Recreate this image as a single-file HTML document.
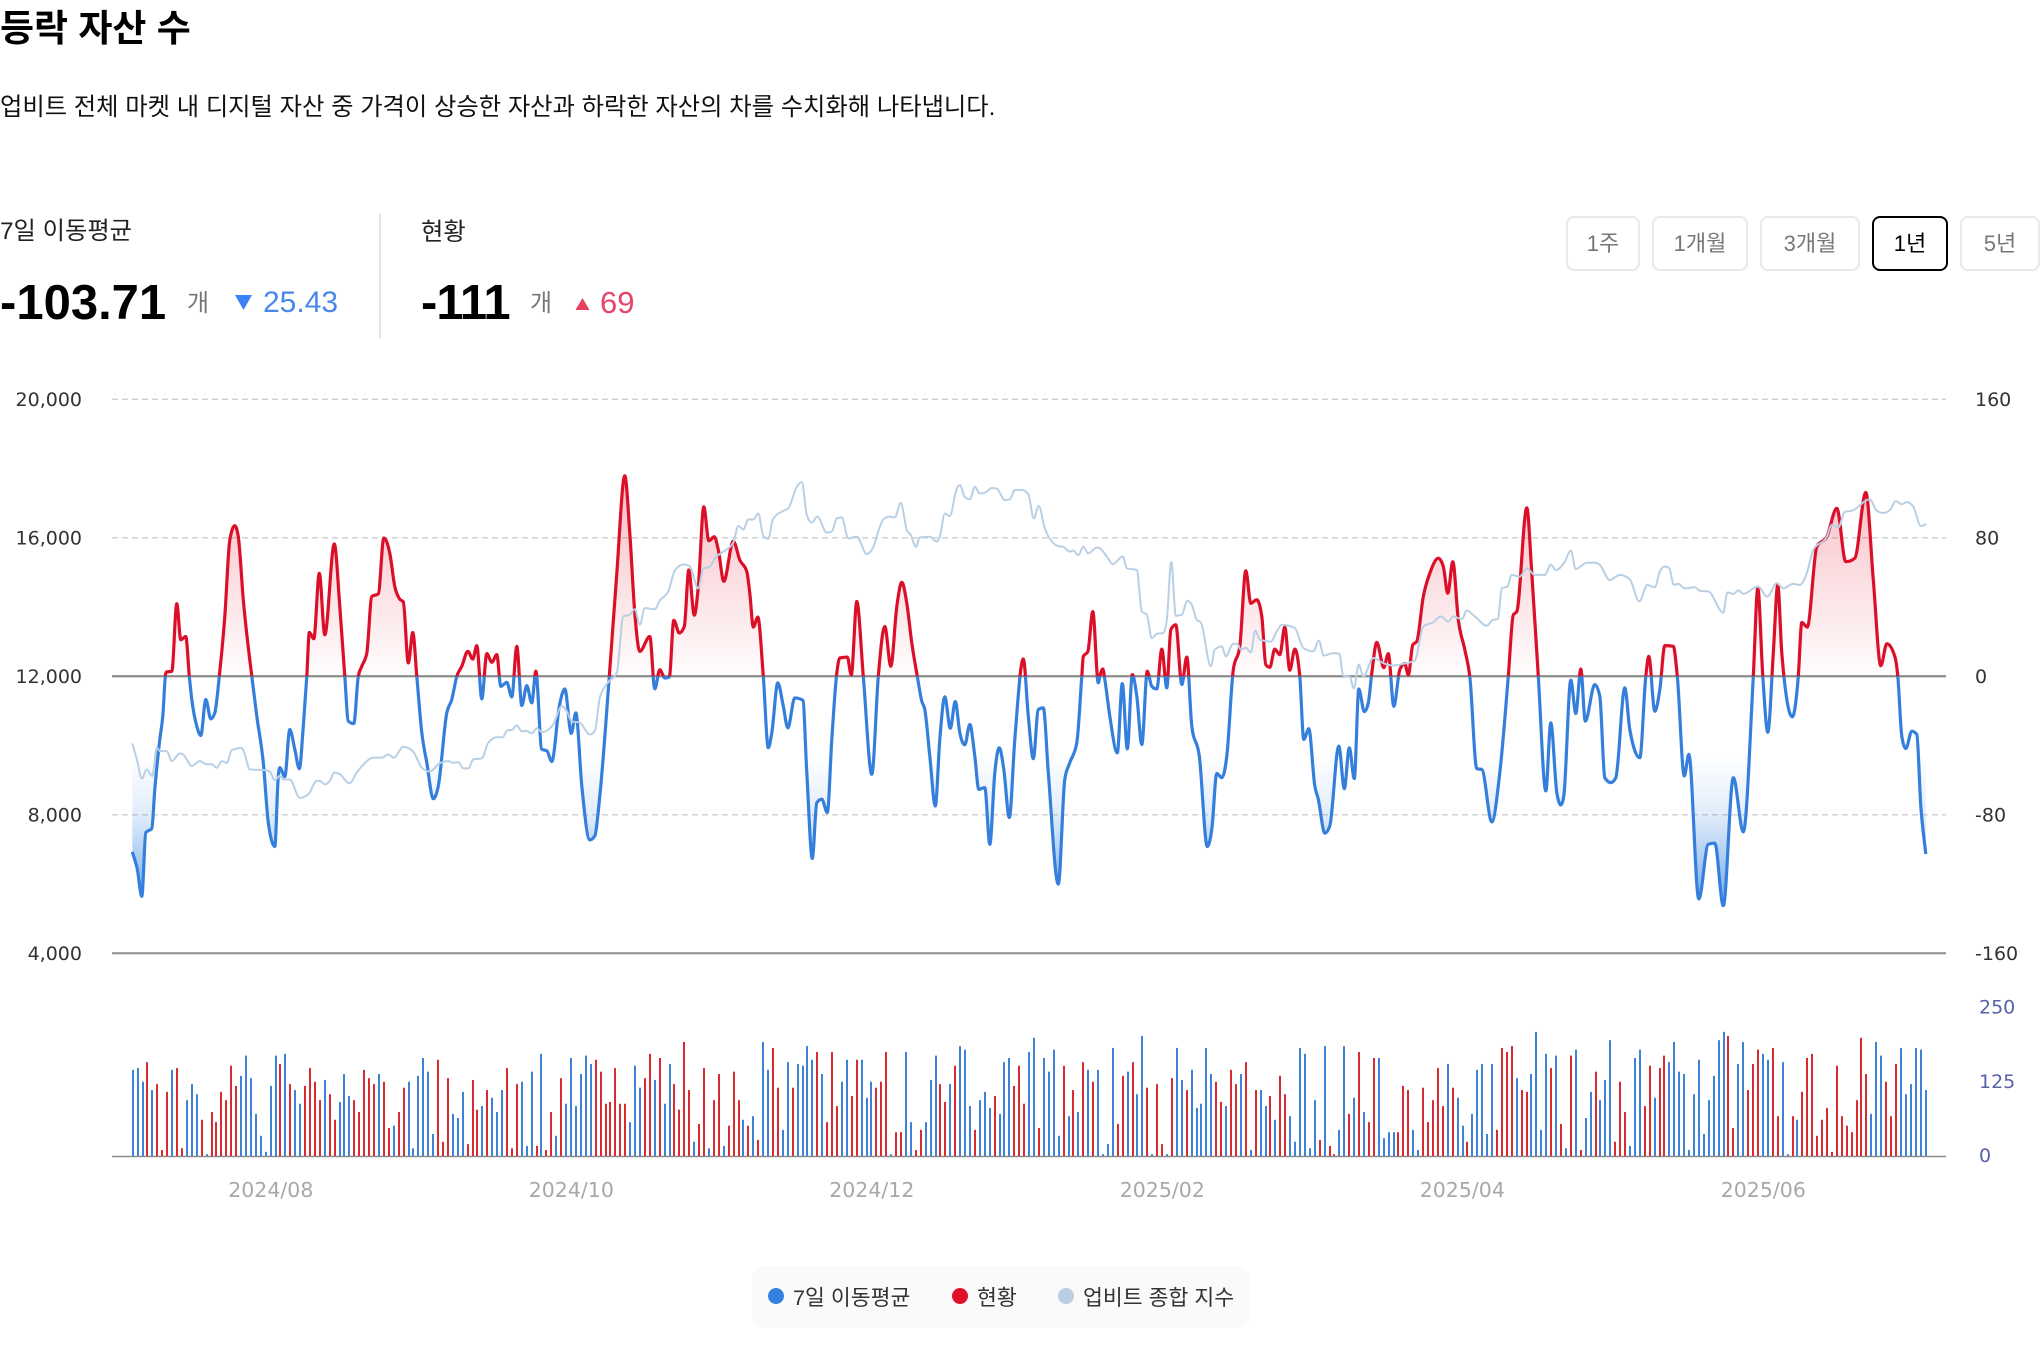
<!DOCTYPE html>
<html lang="ko">
<head>
<meta charset="utf-8">
<title>등락 자산 수</title>
<style>
html,body{margin:0;padding:0;background:#fff;}
body{width:2040px;height:1358px;position:relative;overflow:hidden;font-family:"Liberation Sans","Noto Sans CJK KR",sans-serif;color:#000;}
.t{position:absolute;white-space:nowrap;line-height:1;}
.btn{position:absolute;top:216px;height:55px;box-sizing:border-box;border:2px solid #e8e8e8;border-radius:8px;background:#fff;color:#777;font:22px "Liberation Sans","Noto Sans CJK KR",sans-serif;padding:0;text-align:center;line-height:52px;}
.btn.on{border-color:#000;color:#000;}
#legend{position:absolute;left:752px;top:1266px;width:498px;height:62px;background:#fafafa;border-radius:14px;}
.dot{position:absolute;width:16px;height:16px;border-radius:50%;top:22px;}
.lt{position:absolute;top:19px;font-size:21.6px;line-height:25px;color:#333;white-space:nowrap;}
svg{position:absolute;left:0;top:0;}
</style>
</head>
<body>
<div class="t" style="left:0;top:10px;font-size:37px;font-weight:700;">등락 자산 수</div>
<div class="t" style="left:0;top:96px;font-size:24.3px;color:#111;">업비트 전체 마켓 내 디지털 자산 중 가격이 상승한 자산과 하락한 자산의 차를 수치화해 나타냅니다.</div>

<div class="t" style="left:0;top:220px;font-size:24.3px;color:#222;">7일 이동평균</div>
<div class="t" style="left:0;top:279px;font-size:49px;font-weight:700;">-103.71</div>
<div class="t" style="left:187px;top:292px;font-size:24px;color:#777;">개</div>
<svg style="left:234px;top:294px;" width="19" height="17"><polygon points="1,1 18,1 9.5,16" fill="#3b82f6"/></svg>
<div class="t" style="left:263px;top:288px;font-size:30px;color:#4a87e8;">25.43</div>
<div style="position:absolute;left:379px;top:214px;width:1.5px;height:124px;background:#e3e3e3;"></div>
<div class="t" style="left:421px;top:221px;font-size:24.3px;color:#222;">현황</div>
<div class="t" style="left:421px;top:279px;font-size:49px;font-weight:700;letter-spacing:-1px;">-111</div>
<div class="t" style="left:530px;top:292px;font-size:24px;color:#777;">개</div>
<svg style="left:575px;top:297px;" width="15" height="14"><polygon points="0.5,13 14.5,13 7.5,1" fill="#e8405f"/></svg>
<div class="t" style="left:600px;top:287px;font-size:31px;color:#e6456a;">69</div>

<button class="btn" style="left:1566px;width:74px;">1주</button>
<button class="btn" style="left:1652px;width:96px;">1개월</button>
<button class="btn" style="left:1760px;width:100px;">3개월</button>
<button class="btn on" style="left:1872px;width:76px;">1년</button>
<button class="btn" style="left:1960px;width:80px;">5년</button>

<svg id="chart" width="2040" height="1358" viewBox="0 0 2040 1358" style="pointer-events:none;z-index:0"></svg>

<div id="legend">
  <span class="dot" style="left:16px;background:#3480e0;"></span>
  <span class="lt" style="left:41px;">7일 이동평균</span>
  <span class="dot" style="left:200px;background:#e2102a;"></span>
  <span class="lt" style="left:225px;">현황</span>
  <span class="dot" style="left:306px;background:#b9cfe4;"></span>
  <span class="lt" style="left:331px;">업비트 종합 지수</span>
</div>

<script>
// ---- Axis labels ----
const leftTicks = [20000, 16000, 12000, 8000, 4000];
const rightTicks = [160, 80, 0, -80, -160];
const volumeTicks = [250, 125, 0];
const monthTicks = [
  ["2024/08", 27.7], ["2024/10", 87.8], ["2024/12", 147.9],
  ["2025/02", 206], ["2025/04", 266], ["2025/06", 326.2]
];

// ---- 7-day moving average (right axis) ----
const maDays = [0,1,1.9,2.7,3.9,4.5,5.5,6.1,6.7,6.9,7.9,8.9,9.7,10.7,11.4,11.9,12.9,13.7,14.7,15.7,16.5,17.4,18.5,19.5,20.5,21.2,22.2,23.9,24.9,26.2,27.2,28.5,29.2,29.5,30.5,31.5,32.5,33.4,34.2,34.9,35.4,36.3,37.4,38.5,40.4,41.5,42.5,43.2,44.3,45.2,45.9,46.9,47.9,49.2,50.3,51.5,52.5,53.5,54.2,55.2,56.1,56.9,57.9,58.9,60.2,61.2,62.9,63.9,64.9,65.9,67.1,68.1,68.9,69.9,70.9,71.9,72.9,73.7,74.9,75.9,76.9,77.9,78.9,79.9,80.7,81.9,82.9,83.9,85.4,86.5,87.8,88.7,89.9,91.5,92.5,
93.5,95.4,96.9,98.5,99.5,100.5,101.5,103.5,104.5,105.5,106.5,107.4,108.3,109.4,110.4,111.3,112.4,113.2,114.3,115.3,116.4,117.2,118.3,120.2,121.5,122.9,123.5,124.2,125.1,126.2,127.2,127.9,129.1,130.2,131.1,132.5,134.1,134.9,136,136.9,137.9,139,139.9,140.9,141.5,143,143.8,144.9,146.2,147.9,149.2,150.5,151.7,152.9,153.9,154.9,155.9,157,157.9,158.5,159.5,160.6,161.5,162.5,163.6,164.6,165.5,166.5,167.5,168.5,169.3,170.5,171.5,172.5,173.4,174.3,175.4,176.5,178.2,179.2,180.2,181.2,182.2,183.2,185.2,186.5,187.5,188.9,189.9,190.2,191.1,192.1,193.2,
193.5,194.1,194.5,195.5,197,198,199,200,200.9,201.9,203,203.9,204.9,205.9,206.9,207.7,208.7,209.9,210.9,211.9,213.4,215,215.9,216.9,217.9,218.9,220.2,221.5,222.7,223.7,224.9,225.9,226.7,227.5,228.5,229.5,230.5,231.5,232.5,233.5,234.3,235.3,236.5,237.2,238.5,239.5,241.3,242.4,243.4,244.4,245.3,246.4,247.2,247.9,248.9,250.3,251.2,252.3,253.5,254.5,255.2,256.1,256.9,258.2,259.5,261.2,262.2,263.1,264.1,265.2,266.5,267.5,268.9,269.9,271.9,273.5,275.2,276.2,276.9,278.9,279.9,281.2,282.7,283.7,284.9,285.7,286.3,287.7,288.7,289.7,290.6,292.5,
293.5,294.5,295.7,296.7,298.5,299.5,301.5,302.7,303.3,304.5,305.5,306.5,308.2,309,310.4,311.3,313.3,315.2,316.5,318.2,320.2,322.2,324.2,325.1,326.1,327.1,328.2,329.1,329.9,332,333.2,333.9,335,336.9,338.9,340.9,342.7,344.5,346.7,348.2,349.7,350.9,352.5,353.1,353.9,354.7,355.9,356.9,357.7,358.7];
const maValues = [-101.4,-111.4,-127.1,-90.2,-87.9,-65.3,-36.5,-23,1.9,2.5,2.9,41.9,21.1,23,0,-13.4,-28.8,-34.2,-13.4,-24.6,-21.1,0,34.6,78.7,87,80.6,44.2,0,-23,-49.9,-84.5,-98.3,-57.6,-52.8,-58,-30.7,-42.2,-53.4,-28.8,0,25.3,21.7,59.5,24,76.4,40.3,0,-25.9,-27.3,0,5.8,13.4,46.1,47.6,79.9,71,51.8,44.5,43,7.7,25.3,0,-32.6,-49.9,-70.7,-63.4,-21.1,-13.4,0,5.8,14.4,10,17.7,-13.1,13.1,8.1,12.5,-5.8,-3.5,-11.9,17.3,-16.9,-5.4,-15.4,2.9,-42.2,-43,-49.2,-17.3,-7.3,-33,-21.1,-63.4,-94.5,-92.2,
-69.1,0,59.5,115.8,82.6,36.5,14.4,23,-7.3,3.8,-1,-0.4,32.3,25,28.8,61.4,35.3,51.8,97.9,78.3,80.6,73,54.9,78,67.2,60.5,48,28.4,34.2,0,-41.3,-32.6,-3.8,-17.3,-29.8,-12.5,-13.8,-55.7,-105.2,-73,-71,-78.7,-36.5,1.9,10.6,11.1,0.8,43.2,0,-56.6,0,28.8,5.8,40.3,54.3,42.2,19.2,0,-14.4,-19.2,-46.1,-74.9,-36.5,-11.9,-30,-14.6,-32.6,-39.6,-27.8,-46.1,-65.3,-64.3,-97,-55.7,-41.3,-53.8,-81.6,-36.5,10,-23,-47.6,-19.2,-18.2,-55.7,-120,-59.5,-49.9,-38.4,0,11.5,14.2,37.4,-3.8,
0,4.2,-1.9,-23,-44.2,-4.2,-41.9,1,-11.5,-39.4,2.9,-5.8,-7.3,15.7,-6.7,26.9,29.8,-4.8,11.1,-28.8,-46.1,-98.3,-88.3,-56.1,-58.6,-46.1,3.8,17.3,60.9,42.2,44.2,34.6,6.7,5.2,15.7,12.5,28.4,3.5,15.7,0,-36.5,-30.3,-63.4,-71,-90.6,-86.4,-40.3,-64.9,-41.3,-59.1,-7.3,-20.4,-15.4,1.9,19.6,5,13.1,-17.3,3.8,7.3,0.8,18.2,20.2,46.1,59.5,68.2,63.4,48,66.2,32.6,15.4,0,-53.4,-53.8,-84.1,-55.7,0,35.5,37.4,97.3,59.5,0,-66.2,-26.9,-67.2,-74.3,-69.1,-2.3,-21.5,4.2,-25.9,-4.8,
-11.5,-58.6,-61.4,-58.6,-6.7,-30.7,-47,0,11.5,-20.2,-7.7,17.7,17.3,0,-57.6,-45.1,-128.6,-97,-96.4,-132.5,-58.6,-89.9,0,50.9,0,-32.3,13.4,52.8,13.4,-23.4,0,31.1,28.4,74.9,80.6,97,66.2,68.2,106.2,55.7,6.1,18.8,11.5,0,-34.6,-41.7,-31.7,-33.6,-74.9,-102.7];

// ---- Upbit composite index (left axis) ----
const indexDays = [0,1,1.9,2.9,4,4.9,5.5,6.9,7.9,9.5,10.2,11.9,13.5,14.9,15.9,16.9,17.9,18.9,19.9,21.9,22.5,23.5,26.2,27.5,28.5,29.5,30.2,31.5,33.5,35.2,36.9,37.5,38.5,39.5,40.4,41.5,43.4,44.9,46.9,48.2,49.9,51.2,52.3,54.2,56.1,57.9,59.5,61.5,63.2,64.2,65.2,66.2,67.2,68.2,69.9,71.2,72.9,74.1,75,75.9,76.9,77.9,78.9,79.9,80.9,81.9,83.2,84.2,85.9,86.9,87.9,89.5,91.5,92.5,
93.5,95.2,96.9,98.2,99.5,100.5,101.5,102.5,104.5,105.5,107.2,108.5,110.2,111.4,113.2,114.2,115.4,116.5,118.2,120.2,121.2,122.2,123.2,124.2,125.2,126.2,127.2,128.1,130.2,131.2,132.9,133.9,134.9,135.9,137,138.9,139.9,140.9,141.9,143.2,144.9,146.9,147.9,150.2,151.5,152.5,153.7,154.9,155.7,156.7,157.5,159.5,160.9,161.5,162.5,163.5,164.9,165.5,166.5,167.5,168.5,169.5,170.5,171.9,172.9,174.5,175.5,176.5,177.9,179.2,180.3,181.3,182.5,185.2,186.2,187.4,188.2,189.2,190.2,191.2,192.9,
193.5,194.9,196.1,198.1,198.9,200.9,201.9,202.9,203.9,204.9,206.2,206.9,207.8,208.7,209.9,211,211.9,212.9,213.7,215.7,216.5,217.9,218.7,220.2,221,221.7,222.7,223.7,224.6,225.5,227.7,228.9,229.9,232.5,234.2,236.2,237.3,238.3,240.2,241.4,242.2,243.5,244.3,245.3,246.2,248.2,250.2,252.2,254.2,256.5,258.2,260.2,261.7,263.2,264.2,265.9,266.9,268.5,270.9,272.1,273.1,273.9,275,275.9,277.5,278.9,280.5,282.5,283.7,284.7,286.5,287.7,288.7,290.9,292.5,
293.5,295.5,297.5,299.5,301.4,303,304.5,305.5,306.5,307.4,308.3,309.2,310.5,312.5,313.5,315.2,318.2,319,320.2,321.2,322.2,325.1,327,328.9,330.2,332.2,333.5,334.9,336.2,338.9,339.9,341.2,342.5,343.9,347.5,348.9,350.2,351.5,352.7,353.9,354.9,356.2,357.7,358.8];
const indexValues = [10060,9550,9050,9310,9120,9940,9840,9840,9550,9770,9740,9410,9550,9460,9460,9360,9550,9500,9870,9930,9740,9310,9290,9250,9000,9120,9020,9020,8490,8590,8980,8980,8880,8980,9220,9170,8910,9220,9550,9650,9650,9740,9650,9960,9840,9360,9250,9490,9550,9500,9520,9340,9340,9600,9630,10080,10240,10240,10440,10450,10580,10410,10420,10350,10500,10390,10460,10610,11140,10990,10700,10660,10320,10420,
11380,11830,12100,13730,13780,13940,13490,13970,13940,14190,14450,15050,15230,15190,14540,15120,15150,15410,15600,15860,16340,16240,16530,16530,16700,16050,15970,16530,16780,16850,17470,17610,16660,16440,16610,16150,16180,16560,16590,15980,16030,15530,15650,16530,16610,16590,17010,16220,16080,15740,16010,16030,15890,16030,16700,16630,17420,17520,17180,17110,17470,17280,17300,17440,17420,17090,17110,17380,17380,17260,16560,16920,16270,15760,15740,15600,15630,15500,15740,15550,15720,
15700,15460,15240,15460,15120,15070,13870,13780,13100,13230,13250,13630,15310,13750,13780,14180,14060,13630,13560,12290,12770,12860,12580,12940,12940,12770,12820,12690,13320,13060,13000,13300,13490,13390,12820,12720,13030,12600,12670,12650,12020,11980,11650,12340,12000,12530,12380,12310,12360,12460,13440,13560,13730,13580,13730,13650,13900,13730,13460,13630,13650,14540,14590,14930,14880,15120,14930,14930,15220,15070,15310,15630,15100,15280,15280,
15220,14780,14930,14800,14160,14640,14570,15020,15170,15120,14640,14670,14540,14570,14470,14450,13840,14420,14380,14480,14380,14590,14300,14690,14540,14670,14640,14980,15650,16030,16370,16300,16750,16780,17110,16780,16720,16800,17060,16970,17030,16900,16340,16400];

// ---- Daily volume bars (bottom axis); 1 = up day (red), 0 = down day (blue) ----
const volumeValues = [145,148,125,158,111,121,10,108,145,148,13,94,121,104,61,3,74,57,108,94,152,118,135,169,131,71,34,7,118,169,155,172,121,111,88,118,148,125,94,128,104,61,91,138,101,94,74,145,131,121,138,125,47,51,74,115,125,13,135,165,142,37,162,24,131,71,64,108,20,128,78,84,111,98,74,111,148,13,121,125,17,142,17,172,10,74,34,131,88,165,84,138,169,155,162,142,88,91,148,88,88,57,152,115,131,172,128,165,88,155,121,78,192,111,24,54,148,13,94,138,17,51,142,94,
61,51,67,27,192,145,182,115,44,158,115,155,152,185,162,175,138,57,175,84,125,162,101,162,162,98,125,115,125,175,3,40,40,175,57,10,44,57,128,169,121,91,121,152,185,179,84,44,94,108,81,101,71,158,165,118,152,88,175,199,47,165,142,179,34,152,67,111,74,158,145,125,145,3,20,182,54,135,142,158,104,202,115,3,121,20,3,131,182,128,111,145,81,88,182,138,125,91,84,145,121,138,158,10,111,111,84,101,61,135,104,67,24,182,172,13,94,27,185,17,3,44,185,71,98,175,74,57,165,165,
30,40,40,40,118,111,44,10,115,57,94,148,84,155,115,98,51,24,71,145,155,37,155,44,182,175,185,131,111,108,138,209,44,172,148,169,54,13,169,179,10,64,108,142,94,128,195,24,125,74,17,165,179,84,152,98,148,169,158,192,142,138,10,104,162,37,94,135,195,209,202,47,155,192,111,155,179,172,162,182,67,158,3,67,61,108,165,172,34,61,81,7,152,67,51,40,94,199,138,71,192,169,125,67,155,182,104,121,182,179,111];
const volumeUp = [0,0,0,1,0,1,1,1,0,1,1,0,0,0,1,0,1,1,1,1,1,1,0,0,0,0,0,0,0,0,1,0,1,0,0,1,1,1,1,0,1,1,0,0,0,1,1,1,1,1,0,1,1,0,1,1,0,0,0,0,0,0,1,1,1,0,0,0,1,1,1,0,1,0,0,0,1,1,1,0,0,0,1,0,1,1,0,1,0,0,0,0,0,0,1,1,1,1,1,1,1,0,0,0,1,1,0,1,0,0,1,1,1,1,0,1,1,0,1,1,0,1,1,1,
0,1,0,1,0,0,1,1,0,0,1,0,0,0,0,1,0,1,1,1,0,0,1,1,0,0,0,1,1,1,0,1,1,0,0,1,1,0,0,0,1,1,0,1,0,0,0,1,0,0,0,1,0,0,0,1,1,1,0,0,1,0,0,0,0,1,0,1,0,1,0,1,0,0,0,0,1,1,0,1,0,0,1,0,1,1,0,1,0,0,1,0,0,0,0,0,1,1,0,1,1,0,1,0,1,0,0,1,0,1,1,0,0,0,0,0,0,1,0,1,1,0,0,1,0,1,0,1,1,0,
0,0,0,1,1,1,0,0,1,1,1,1,1,0,1,0,0,1,0,0,0,0,0,1,1,1,1,0,1,1,0,0,0,0,1,0,1,0,1,0,1,0,0,1,0,0,0,1,1,1,0,0,0,1,1,0,1,1,0,0,0,0,0,0,0,0,0,0,0,0,1,1,0,0,1,1,1,0,0,1,1,0,0,1,0,1,1,1,1,1,1,1,1,1,1,1,1,1,1,0,0,0,1,1,1,0,0,0,0,0,0];

// ---- Scales ----
const plotLeft = 112, plotRight = 1946;
const xOrigin = 132.3, pxPerDay = 5;
const xScale = d => xOrigin + d * pxPerDay;
const maScale = v => 676.3 - v * (138.5 / 80);
const indexScale = v => 676.3 - (v - 12000) * (138.5 / 4000);
const volumeScale = v => 1156 - v * (148.5 / 250);
const barFirst = 132.7, barLast = 1925.5;
const barX = i => barFirst + i * (barLast - barFirst) / (volumeValues.length - 1);

// ---- Helpers ----
const NS = 'http://www.w3.org/2000/svg';
const chart = document.getElementById('chart');
function mk(tag, attrs, parent) {
  const el = document.createElementNS(NS, tag);
  for (const k in attrs) el.setAttribute(k, attrs[k]);
  (parent || chart).appendChild(el);
  return el;
}
// monotone-x cubic path
function monotonePath(xs, ys) {
  const n = xs.length, m = new Array(n), s = new Array(n - 1);
  for (let i = 0; i < n - 1; i++) s[i] = (ys[i + 1] - ys[i]) / (xs[i + 1] - xs[i]);
  m[0] = s[0]; m[n - 1] = s[n - 2];
  for (let i = 1; i < n - 1; i++) {
    if (s[i - 1] * s[i] <= 0) m[i] = 0;
    else {
      const h0 = xs[i] - xs[i - 1], h1 = xs[i + 1] - xs[i];
      const p = (s[i - 1] * h1 + s[i] * h0) / (h0 + h1);
      m[i] = (Math.sign(s[i - 1]) + Math.sign(s[i])) * Math.min(Math.abs(s[i - 1]), Math.abs(s[i]), 0.5 * Math.abs(p));
    }
  }
  let d = 'M' + xs[0].toFixed(2) + ' ' + ys[0].toFixed(2);
  for (let i = 0; i < n - 1; i++) {
    const h = (xs[i + 1] - xs[i]) / 3;
    d += 'C' + (xs[i] + h).toFixed(2) + ' ' + (ys[i] + m[i] * h).toFixed(2) + ' ' +
      (xs[i + 1] - h).toFixed(2) + ' ' + (ys[i + 1] - m[i + 1] * h).toFixed(2) + ' ' +
      xs[i + 1].toFixed(2) + ' ' + ys[i + 1].toFixed(2);
  }
  return d;
}
const fmt = v => v.toString().replace(/\B(?=(\d{3})+(?!\d))/g, ',');

// ---- Defs ----
const defs = mk('defs', {});
const zeroY = maScale(0);
const clipUp = mk('clipPath', {id: 'clip-up'}, defs);
mk('rect', {x: 0, y: 0, width: 2040, height: zeroY}, clipUp);
const clipDown = mk('clipPath', {id: 'clip-down'}, defs);
mk('rect', {x: 0, y: zeroY, width: 2040, height: 1358 - zeroY}, clipDown);
const gUp = mk('linearGradient', {id: 'grad-up', gradientUnits: 'userSpaceOnUse', x1: 0, x2: 0, y1: maScale(115), y2: zeroY}, defs);
mk('stop', {offset: 0, 'stop-color': '#e2102a', 'stop-opacity': 0.27}, gUp);
mk('stop', {offset: 1, 'stop-color': '#e2102a', 'stop-opacity': 0.01}, gUp);
const gDown = mk('linearGradient', {id: 'grad-down', gradientUnits: 'userSpaceOnUse', x1: 0, x2: 0, y1: maScale(-130), y2: maScale(-45)}, defs);
mk('stop', {offset: 0, 'stop-color': '#2f7fe0', 'stop-opacity': 0.65}, gDown);
mk('stop', {offset: 0.59, 'stop-color': '#2f7fe0', 'stop-opacity': 0.14}, gDown);
mk('stop', {offset: 1, 'stop-color': '#2f7fe0', 'stop-opacity': 0}, gDown);

// ---- Grid ----
rightTicks.forEach(t => {
  const y = maScale(t);
  const solid = (t === 0 || t === -160);
  const line = mk('line', {x1: plotLeft, x2: plotRight, y1: y, y2: y,
    stroke: solid ? '#8c8c8c' : '#cfcfcf', 'stroke-width': solid ? 2 : 1.4,
    'stroke-dasharray': solid ? 'none' : '6 4'});
  
  
});
const volBase = mk('line', {x1: plotLeft, x2: plotRight, y1: 1156.5, y2: 1156.5, stroke: '#8c8c8c', 'stroke-width': 1.6});



// ---- Axis labels ----
const tickFont = '"DejaVu Sans", sans-serif';
leftTicks.forEach(t => {
  const el = mk('text', {x: 82, y: indexScale(t) + 6.5, 'text-anchor': 'end', 'font-size': 19, 'font-family': tickFont, fill: '#333'});
  el.textContent = fmt(t);
  
  
});
rightTicks.forEach(t => {
  const el = mk('text', {x: 1975, y: maScale(t) + 6.5, 'font-size': 19, 'font-family': tickFont, fill: '#333'});
  el.textContent = t;
  
  
});
volumeTicks.forEach(t => {
  const el = mk('text', {x: 1979, y: volumeScale(t) + 6, 'font-size': 19, 'font-family': tickFont, fill: '#5762a8'});
  el.textContent = t;
  
  
});
monthTicks.forEach(m => {
  const el = mk('text', {x: xScale(m[1]), y: 1197, 'text-anchor': 'middle', 'font-size': 20.5, 'font-family': tickFont, fill: '#a8a8a8'});
  el.textContent = m[0];
  
  
});

// ---- Volume bars ----
volumeValues.forEach((v, i) => {
  const y = volumeScale(v);
  const bar = mk('rect', {x: Math.round(barX(i)) - 1, y: y, width: 2, height: 1156 - y, fill: volumeUp[i] ? '#d92a30' : '#3d82d6'});
  
  
});

// ---- Moving average ----
const maXs = maDays.map(xScale), maYs = maValues.map(maScale);
const maPath = monotonePath(maXs, maYs);
const areaPath = maPath + 'L' + maXs[maXs.length - 1].toFixed(2) + ' ' + zeroY + 'L' + maXs[0].toFixed(2) + ' ' + zeroY + 'Z';
const areaUp = mk('path', {d: areaPath, fill: 'url(#grad-up)', 'clip-path': 'url(#clip-up)'});


const areaDown = mk('path', {d: areaPath, fill: 'url(#grad-down)', 'clip-path': 'url(#clip-down)'});


const zeroRedraw = mk('line', {x1: plotLeft, x2: plotRight, y1: zeroY, y2: zeroY, stroke: '#8c8c8c', 'stroke-width': 2});


const lineDown = mk('path', {d: maPath, fill: 'none', stroke: '#357fdc', 'stroke-width': 3.2, 'stroke-linejoin': 'round', 'clip-path': 'url(#clip-down)'});


const lineUp = mk('path', {d: maPath, fill: 'none', stroke: '#dc0f28', 'stroke-width': 3.2, 'stroke-linejoin': 'round', 'clip-path': 'url(#clip-up)'});



// ---- Index ----
const indexLine = mk('path', {d: monotonePath(indexDays.map(xScale), indexValues.map(indexScale)), fill: 'none', stroke: '#b9cfe4', 'stroke-width': 2, 'stroke-linejoin': 'round'});


</script>
</body>
</html>
